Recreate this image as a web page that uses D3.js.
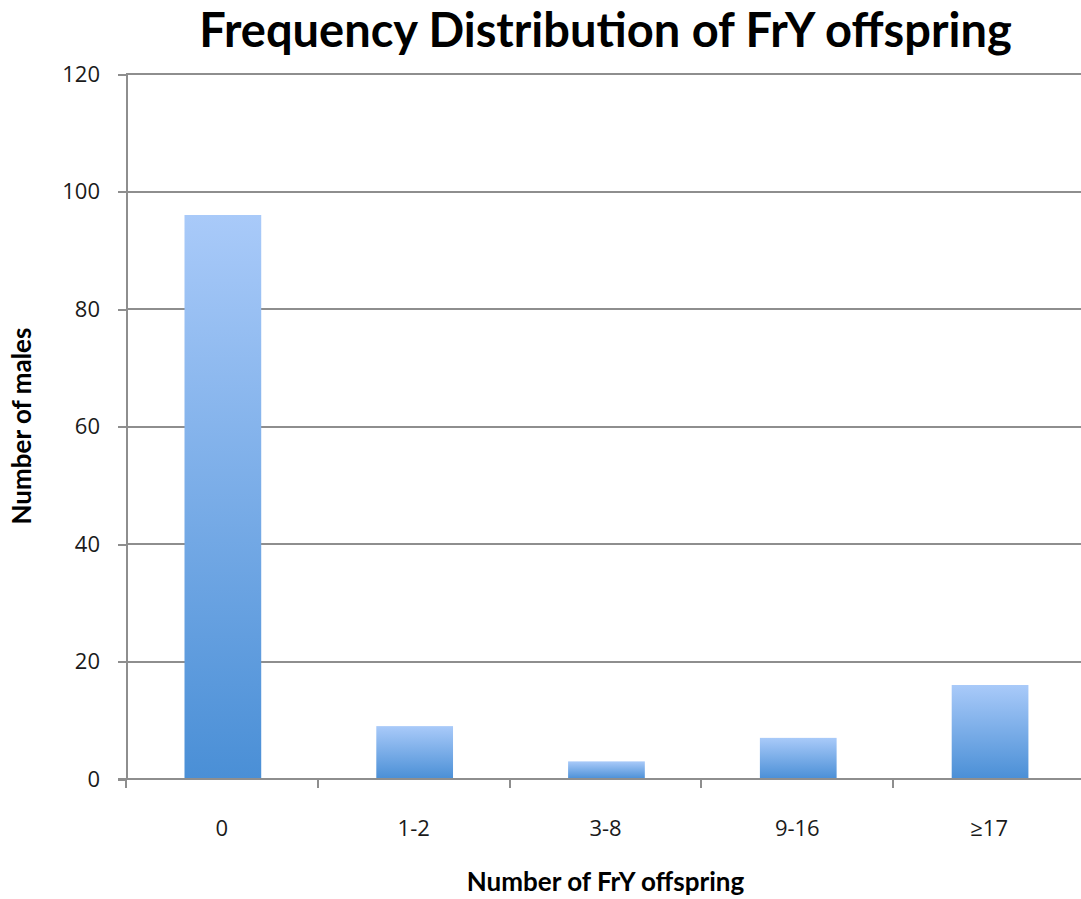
<!DOCTYPE html>
<html lang="en">

<head>
    <meta charset="UTF-8">
    <title>Frequency Distribution of FrY offspring</title>
    <style>
        body {
            margin: 0;
            background: #fff;
            font-family: 'Open Sans', 'Noto Sans', sans-serif;
        }

        .axis path,
        .axis line,
        .grid line {
            stroke: #8e8e8e;
            stroke-width: 2px;
            shape-rendering: crispEdges;
        }

        .axis text {
            fill: #1a1a1a;
            font-size: 22px;
            font-family: 'Open Sans', sans-serif;
        }

        .title {
            font-family: Lato, 'Open Sans', sans-serif;
            font-weight: 700;
            fill: #000;
        }

        .axisLabel {
            font-family: Lato, 'Open Sans', sans-serif;
            font-weight: 700;
            font-size: 26px;
            fill: #000;
        }
    </style>
</head>

<body>
    <div id="chart"></div>
</body>

</html>
<script src="https://cdnjs.cloudflare.com/ajax/libs/d3/7.8.5/d3.min.js"></script>
<script>
    // data
    const categories = ['0', '1-2', '3-8', '9-16', '\u226517'];
    const counts = [96, 9, 3, 7, 16];
    const yTicks = [0, 20, 40, 60, 80, 100, 120];

    const W = 1081, H = 899;
    const padding = { top: 74, right: -4, bottom: 120, left: 126 };
    const width = W - padding.left - padding.right;
    const height = H - padding.top - padding.bottom;

    const svg = d3.select('#chart').append('svg')
        .attr('width', W)
        .attr('height', H);

    // 柱子渐变
    const grad = svg.append('defs').append('linearGradient')
        .attr('id', 'barGrad')
        .attr('x1', 0).attr('y1', 0).attr('x2', 0).attr('y2', 1);
    grad.append('stop').attr('offset', '0%').attr('stop-color', '#a9caf9');
    grad.append('stop').attr('offset', '100%').attr('stop-color', '#4a8fd6');

    const g = svg.append('g')
        .attr('transform', 'translate(' + padding.left + ',' + padding.top + ')');

    const xScale = d3.scaleBand().domain(categories).range([0, width]).padding(0);
    const yScale = d3.scaleLinear().domain([0, 120]).range([height, 0]);

    // gridlines
    g.append('g')
        .attr('class', 'grid')
        .selectAll('line')
        .data(yTicks.filter(function (d) { return d > 0; }))
        .enter().append('line')
        .attr('x1', 0)
        .attr('x2', width)
        .attr('y1', function (d) { return yScale(d); })
        .attr('y2', function (d) { return yScale(d); });

    // bars
    g.selectAll('.bar')
        .data(counts)
        .enter().append('rect')
        .attr('class', 'bar')
        .attr('x', function (d, i) { return xScale(categories[i]) + xScale.bandwidth() * 0.305; })
        .attr('width', xScale.bandwidth() * 0.4)
        .attr('y', function (d) { return yScale(d); })
        .attr('height', function (d) { return height - yScale(d); })
        .attr('fill', 'url(#barGrad)');

    // y axis
    g.append('g')
        .attr('class', 'axis')
        .call(d3.axisLeft(yScale).tickValues(yTicks).tickSize(8).tickSizeOuter(0).tickPadding(18));

    // x axis, ticks on band edges
    const xAxis = g.append('g')
        .attr('class', 'axis')
        .attr('transform', 'translate(0,' + height + ')');
    xAxis.append('line')
        .attr('x1', -8).attr('x2', width);
    xAxis.selectAll('.tickMark')
        .data(categories)
        .enter().append('line')
        .attr('class', 'tickMark')
        .attr('x1', function (d) { return xScale(d); })
        .attr('x2', function (d) { return xScale(d); })
        .attr('y1', 0).attr('y2', 9);
    xAxis.selectAll('.tickText')
        .data(categories)
        .enter().append('text')
        .attr('class', 'tickText')
        .attr('x', function (d) { return xScale(d) + xScale.bandwidth() / 2; })
        .attr('y', 57)
        .attr('text-anchor', 'middle')
        .text(function (d) { return d; });

    // title
    svg.append('text')
        .attr('class', 'title')
        .attr('x', padding.left + width / 2)
        .attr('y', 47)
        .attr('text-anchor', 'middle')
        .attr('font-size', 47)
        .text('Frequency Distribution of FrY offspring');

    svg.append('text')
        .attr('class', 'axisLabel')
        .attr('x', padding.left + width / 2)
        .attr('y', 891)
        .attr('text-anchor', 'middle')
        .text('Number of FrY offspring');

    svg.append('text')
        .attr('class', 'axisLabel')
        .attr('transform', 'translate(31,426) rotate(-90)')
        .attr('text-anchor', 'middle')
        .text('Number of males');
</script>
